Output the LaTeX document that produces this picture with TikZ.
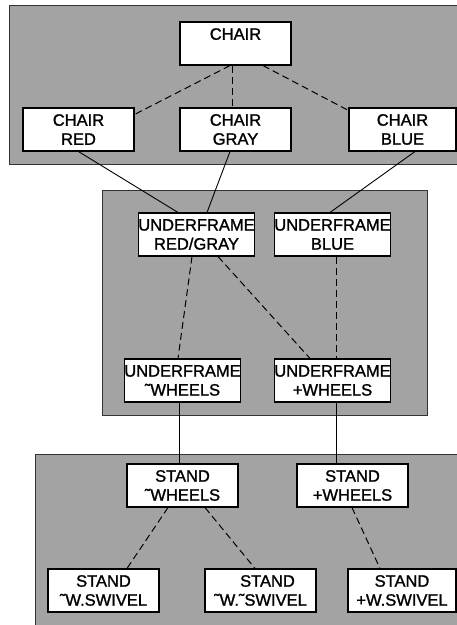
\documentclass[tikz,border=0pt]{standalone}
\usepackage{fontspec}
\setmainfont[FakeBold=1.3]{Liberation Sans}
\begin{document}
\begin{tikzpicture}[x=1pt,y=-1pt,
  panel/.style={draw=black!80,line width=0.9pt,fill=black!36},
  box/.style={draw=black,line width=1.1pt,fill=white,minimum width=111pt,minimum height=43pt,inner sep=0pt,align=center,font=\fontsize{16.5}{19}\selectfont},
  dsh/.style={line width=1pt,dash pattern=on 7pt off 4pt},
  sld/.style={line width=0.9pt},
  thin/.style={line width=0.6pt}]
\useasboundingbox (0,0) rectangle (457,625);
\fill[white] (0,0) rectangle (457,625);
% panels
\path[panel] (9,5) rectangle (462,164);
\path[panel] (102,190) rectangle (427,415);
\path[panel] (35,454) rectangle (462,630);
% nodes
\node[box] (chair) at (235.5,43.5) {CHAIR\\\mbox{}};
\node[box] (red) at (78.5,129.5) {CHAIR\\RED};
\node[box] (gray) at (235.5,129.5) {CHAIR\\GRAY};
\node[box,minimum width=107pt] (blue) at (402.5,129.5) {CHAIR\\BLUE};
\node[box] (ufrg) at (196.5,234.5) {UNDERFRAME\\RED/GRAY};
\node[box] (ufb) at (332.5,234.5) {UNDERFRAME\\BLUE};
\node[box] (ufnw) at (182.5,380.5) {UNDERFRAME\\˜WHEELS};
\node[box] (ufpw) at (332.5,380.5) {UNDERFRAME\\+WHEELS};
\node[box] (snw) at (182.5,485.5) {STAND\\˜WHEELS};
\node[box] (spw) at (352.5,485.5) {STAND\\+WHEELS};
\node[box] (snws) at (103.5,590.5) {STAND\\˜W.SWIVEL};
\node[box] (snwns) at (260.5,590.5) {\hspace*{14pt}STAND\\˜W.˜SWIVEL};
\node[box,minimum width=108pt] (spws) at (402,590.5) {STAND\\+W.SWIVEL};
% connectors
\draw[dsh] ([xshift=-5.5pt]chair.south) -- ([yshift=-7pt]red.north east);
\draw[dsh] ([xshift=-3.5pt]chair.south) -- ([xshift=-3.5pt]gray.north);
\draw[dsh] ([xshift=27.5pt]chair.south) -- ([yshift=-3pt]blue.north west);
\draw[sld] (red.south) -- ([xshift=-18.5pt]ufrg.north);
\draw[sld] ([xshift=-5.5pt]gray.south) -- ([xshift=10.5pt]ufrg.north);
\draw[sld] ([xshift=12.5pt]blue.south) -- ([xshift=-2.5pt]ufb.north);
\draw[dsh] ([xshift=-4.5pt]ufrg.south) -- ([xshift=-4.5pt]ufnw.north);
\draw[dsh] ([xshift=21.5pt]ufrg.south) -- ([xshift=-22.5pt]ufpw.north);
\draw[dsh] ([xshift=3.5pt]ufb.south) -- ([xshift=3.5pt]ufpw.north);
\draw[thin] ([xshift=-3.5pt]ufnw.south) -- ([xshift=-3.5pt]snw.north);
\draw[thin] ([xshift=3.5pt]ufpw.south) -- ([xshift=-16.5pt]spw.north);
\draw[dsh] ([xshift=-14.5pt]snw.south) -- ([xshift=23.5pt]snws.north);
\draw[dsh] ([xshift=22.5pt]snw.south) -- ([xshift=-5.5pt]snwns.north);
\draw[dsh] ([xshift=-0.5pt]spw.south) -- ([xshift=-22pt]spws.north);
\end{tikzpicture}
\end{document}
